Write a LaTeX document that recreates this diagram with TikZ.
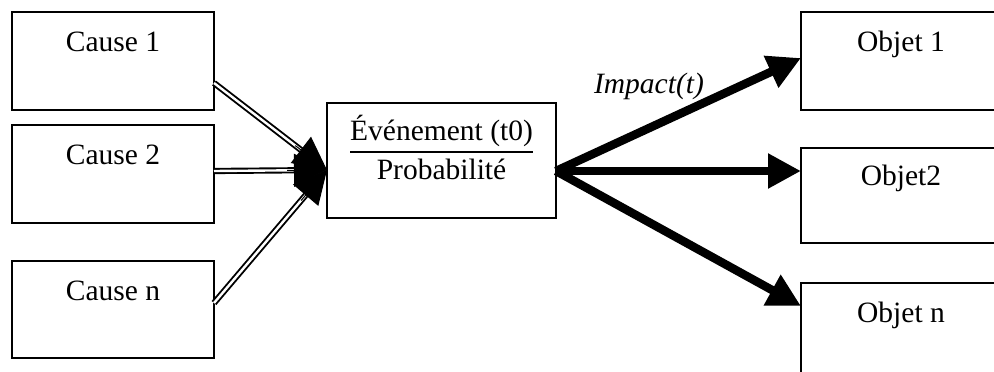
\documentclass[tikz,border=0pt]{standalone}
\usepackage{fontspec}
\setmainfont{Liberation Serif}
\usetikzlibrary{arrows.meta,calc}

\begin{document}
\begin{tikzpicture}[x=1pt,y=-1pt,
  every node/.style={font=\fontsize{29.5pt}{35.4pt}\selectfont},
  box/.style={draw, line width=1.8pt, rectangle, inner sep=0pt, outer sep=0pt,
    anchor=north west, minimum width=202pt, text height=39pt, text depth=59pt},
  dbl/.style={line width=1.9pt, draw=black, double=white, double distance=2.4pt,
    shorten >=26pt},
  inhead/.style={line width=1pt, -{Triangle[length=33pt,width=33pt]}},
  impact/.style={line width=8.5pt, -{Triangle[length=33pt,width=33pt]}}
]
\useasboundingbox (0,0) rectangle (994,372);
\clip (0,0) rectangle (994,372);

% causes on the left
\node[box] (c1) at (12,12)  {Cause 1};
\node[box] (c2) at (12,125) {Cause 2};
\node[box, text depth=58pt] (cn) at (12,261) {Cause n};

% central event
\node[box, minimum width=229pt, text height=37pt, text depth=78pt] (ev) at (327,103)
  {\setlength{\arrayrulewidth}{2pt}%
   \begin{tabular}[t]{@{}c@{}}Événement (t0)\\\hline
   \rule{0pt}{27pt}Probabilité\end{tabular}};

% affected objects on the right
\node[box, minimum width=200pt] (o1) at (801,12)  {Objet 1};
\node[box, minimum width=200pt, text height=37pt, text depth=58pt] (o2) at (801,148) {Objet2};
\node[box, minimum width=200pt] (on) at (801,283) {Objet n};

% connection points
\coordinate (s1) at ([yshift=-71pt]c1.north east);
\coordinate (s2) at ([yshift=-46pt]c2.north east);
\coordinate (s3) at ([yshift=-42pt]cn.north east);
\coordinate (evin) at ([yshift=-67pt]ev.north west);
\coordinate (evout) at ([yshift=-68pt]ev.north east);
\coordinate (t1) at ([yshift=-46pt]o1.north west);
\coordinate (t2) at ([yshift=-23pt]o2.north west);
\coordinate (t3) at ([yshift=-23pt]on.north west);

% double arrows from the causes
\foreach \s in {s1,s2,s3}{
  \draw[dbl] (\s) -- (evin);
  \draw[inhead] ($(evin)!40pt!(\s)$) -- (evin);
}

% thick arrows towards the objects
\draw[impact] (evout) -- (t1);
\draw[impact] (evout) -- (t2);
\draw[impact] (evout) -- (t3);

\node[anchor=base, font=\fontsize{29.5pt}{35.4pt}\selectfont\itshape] (lbl) at (649,93) {Impact(t)};
\end{tikzpicture}
\end{document}
